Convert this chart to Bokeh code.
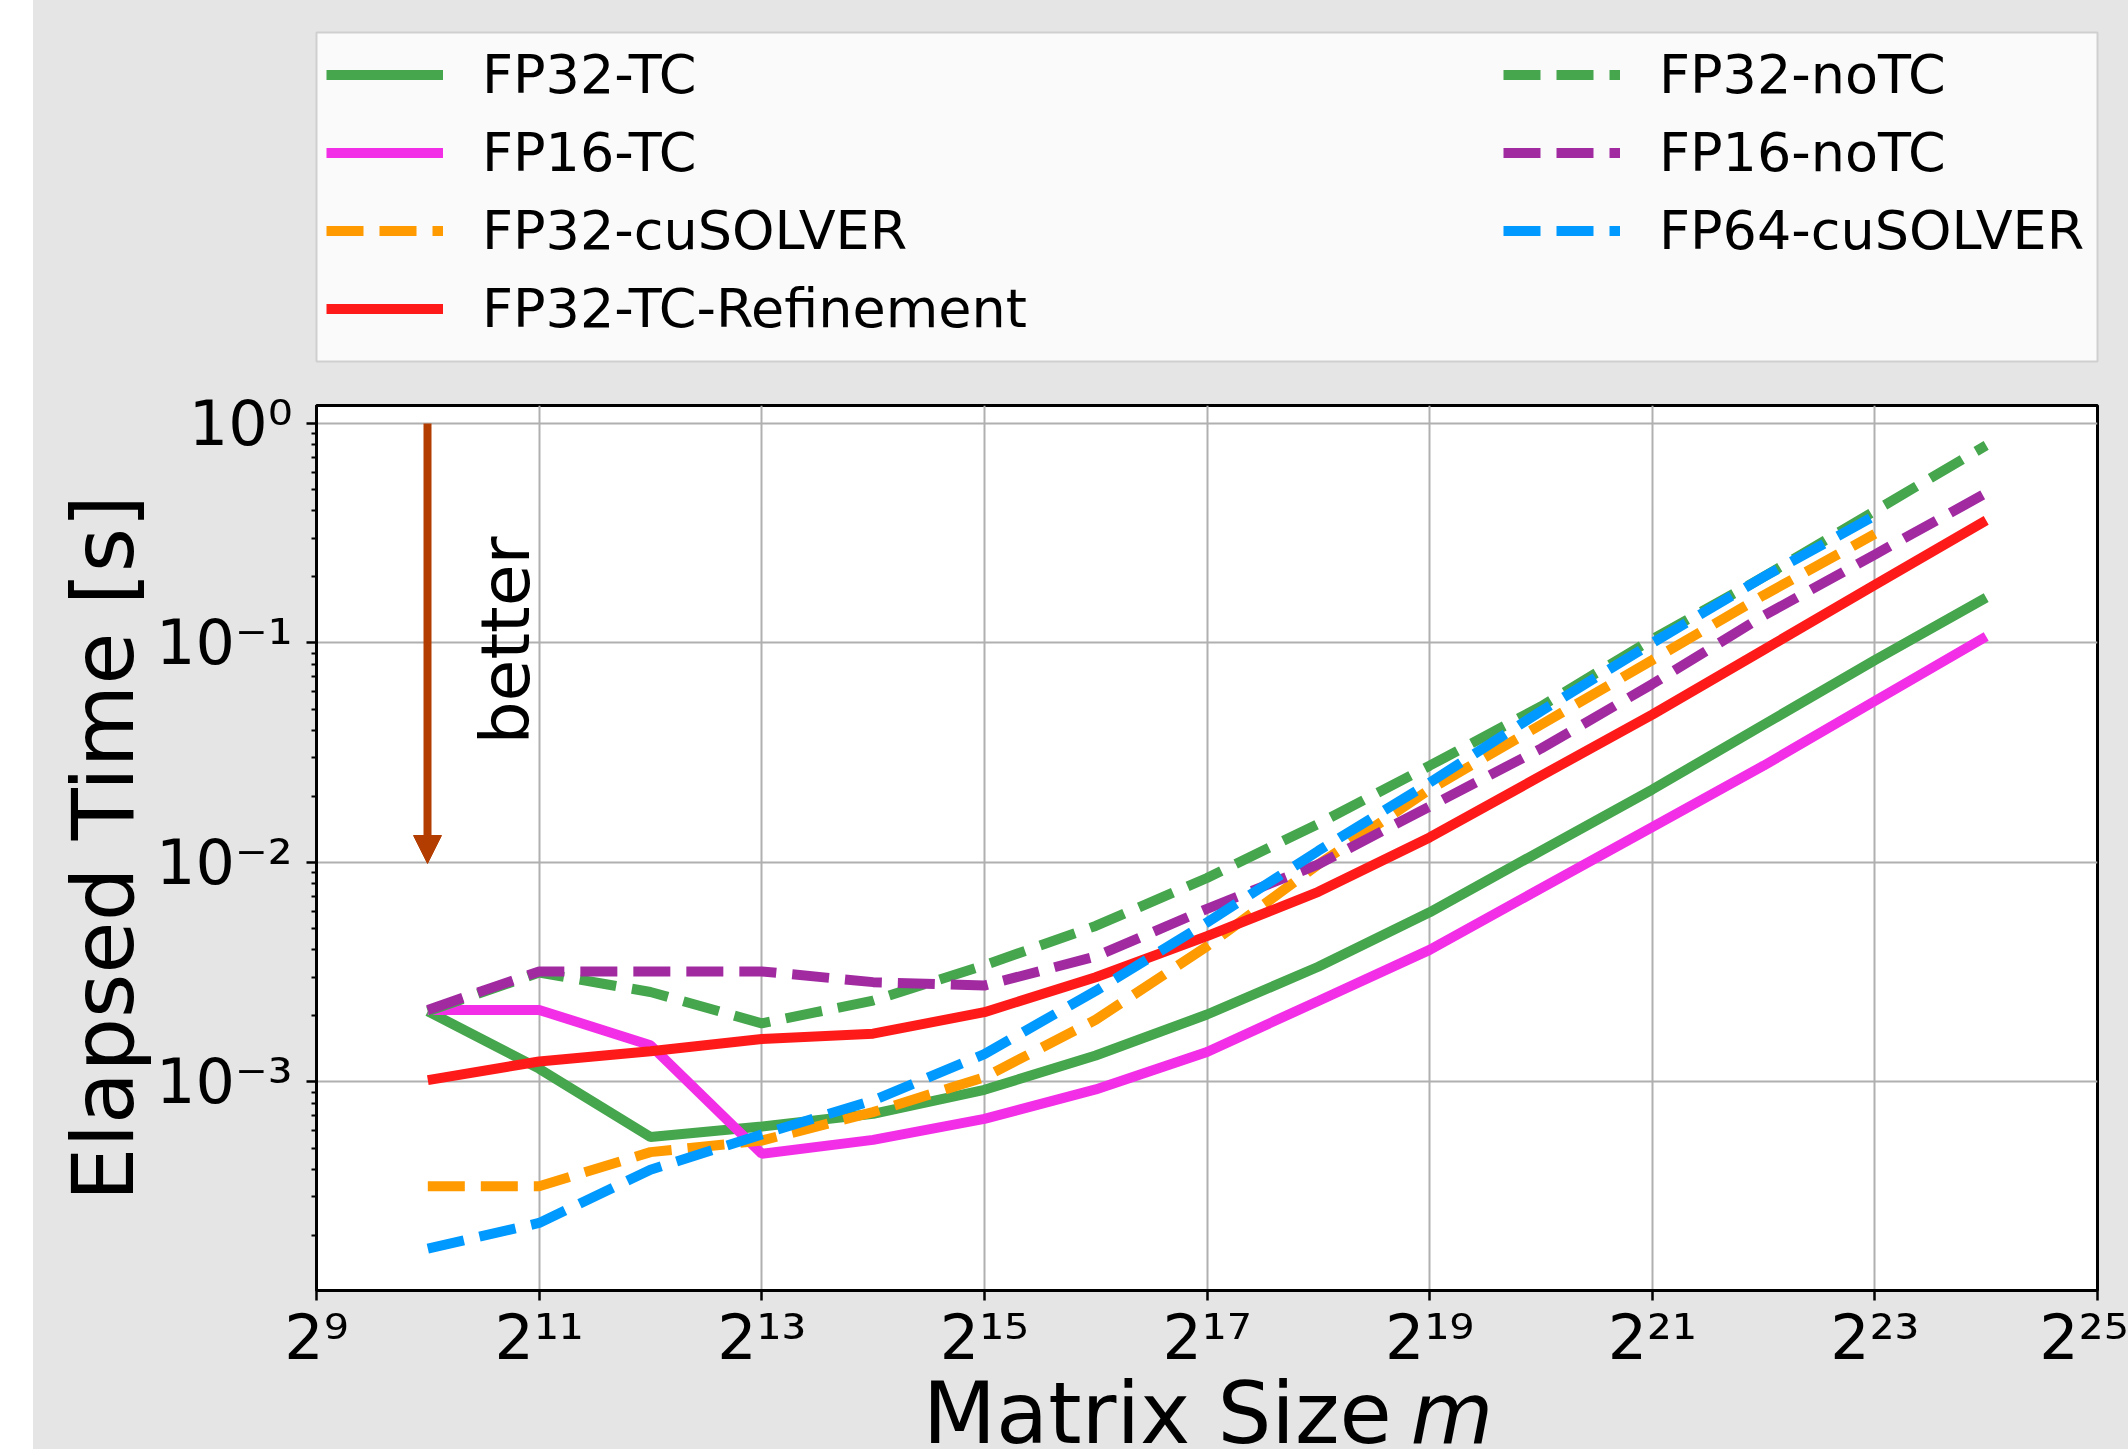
import math
from bokeh.plotting import figure
from bokeh.models import (Range1d, FixedTicker, Legend, LegendItem, Label, Arrow,
                          NormalHead, Spacer)
from bokeh.layouts import row, column
from bokeh.embed import file_html
from bokeh.resources import INLINE

# ---------------- data ----------------
sizes = [1024, 2048, 4096, 8192, 16384, 32768, 65536, 131072, 262144, 524288,
         1048576, 2097152, 4194304, 8388608, 16777216]
sizes_cusolver = sizes[:14]

fp32_tc = [2.10e-3, 1.15e-3, 5.61e-4, 6.27e-4, 7.16e-4, 9.21e-4, 1.32e-3, 2.03e-3,
           3.35e-3, 5.93e-3, 1.13e-2, 2.15e-2, 4.24e-2, 8.36e-2, 1.61e-1]
fp16_tc = [2.13e-3, 2.13e-3, 1.47e-3, 4.71e-4, 5.45e-4, 6.79e-4, 9.25e-4, 1.37e-3,
           2.34e-3, 4.00e-3, 7.62e-3, 1.45e-2, 2.76e-2, 5.44e-2, 1.07e-1]
fp32_cusolver = [3.35e-4, 3.35e-4, 4.79e-4, 5.41e-4, 7.29e-4, 1.05e-3, 1.92e-3, 4.15e-3,
                 9.80e-3, 2.15e-2, 4.24e-2, 8.36e-2, 1.65e-1, 3.14e-1]
fp32_tc_refine = [1.02e-3, 1.24e-3, 1.38e-3, 1.57e-3, 1.66e-3, 2.08e-3, 3.00e-3, 4.62e-3,
                  7.35e-3, 1.30e-2, 2.48e-2, 4.72e-2, 9.31e-2, 1.84e-1, 3.62e-1]
fp32_notc = [2.10e-3, 3.15e-3, 2.57e-3, 1.85e-3, 2.35e-3, 3.40e-3, 5.14e-3, 8.50e-3,
             1.50e-2, 2.76e-2, 5.14e-2, 1.04e-1, 2.00e-1, 4.00e-1, 7.95e-1]
fp16_notc = [2.13e-3, 3.19e-3, 3.19e-3, 3.19e-3, 2.85e-3, 2.75e-3, 3.73e-3, 6.15e-3,
             9.80e-3, 1.80e-2, 3.30e-2, 6.50e-2, 1.33e-1, 2.53e-1, 4.82e-1]
fp64_cusolver = [1.74e-4, 2.28e-4, 3.98e-4, 5.77e-4, 8.24e-4, 1.34e-3, 2.60e-3, 5.33e-3,
                 1.13e-2, 2.31e-2, 4.89e-2, 1.00e-1, 2.00e-1, 3.80e-1]

series_names = ["FP32-TC", "FP16-TC", "FP32-cuSOLVER", "FP32-TC-Refinement",
                "FP32-noTC", "FP16-noTC", "FP64-cuSOLVER"]

x_ticks = [512, 2048, 8192, 32768, 131072, 524288, 2097152, 8388608, 33554432]
x_tick_labels = ["2\u2079", "2\u00b9\u00b9", "2\u00b9\u00b3", "2\u00b9\u2075", "2\u00b9\u2077",
                 "2\u00b9\u2079", "2\u00b2\u00b9", "2\u00b2\u00b3", "2\u00b2\u2075"]
y_ticks = [0.001, 0.01, 0.1, 1.0]
y_tick_labels = ["10\u207b\u00b3", "10\u207b\u00b2", "10\u207b\u00b9", "10\u2070"]

x_label = "Matrix Size"
x_label_var = "m"
y_label = "Elapsed Time [s]"
arrow_text = "better"

# ---------------- layout constants (page pixels) ----------------
PAGE_X0 = 33
W = 2128 - PAGE_X0
FL, FR, FT, FB = 316, 2097, 405, 1290
LEG_T, LEG_B = 32, 361
LEG_FIG_H = 380
MAIN_END = 1376
X_LO, X_HI = 9.0, 25.0                # log2
Y_LO, Y_HI = -3.950, 0.082            # log10

FONT = "DejaVu Sans"
BG = "#e5e5e5"

GREEN = "#45a64d"
MAGENTA = "#f22ee6"
ORANGE = "#ff9a00"
RED = "#ff1a1a"
PURPLE = "#a12aa1"
BLUE = "#0099ff"
ARROW = "#b33c00"
LW = 10
DASH = "37 16"
styles = [dict(line_color=GREEN, line_width=LW),
          dict(line_color=MAGENTA, line_width=LW),
          dict(line_color=ORANGE, line_width=LW, line_dash=DASH),
          dict(line_color=RED, line_width=LW),
          dict(line_color=GREEN, line_width=LW, line_dash=DASH),
          dict(line_color=PURPLE, line_width=LW, line_dash=DASH),
          dict(line_color=BLUE, line_width=LW, line_dash=DASH)]


def dx(px):
    return 2 ** (X_LO + (px - FL) / (FR - FL) * (X_HI - X_LO))


def dy(py):
    return 10 ** (Y_HI - (py - FT) / (FB - FT) * (Y_HI - Y_LO))


# ================= legend figure (top) =================
leg_fig = figure(width=W, height=LEG_FIG_H, x_range=Range1d(0, 1), y_range=Range1d(0, 1),
                 x_axis_location=None, y_axis_location=None,
                 output_backend="svg", toolbar_location=None,
                 min_border_left=FL - PAGE_X0, min_border_right=PAGE_X0 + W - FR,
                 min_border_top=LEG_T, min_border_bottom=LEG_FIG_H - LEG_B)
leg_fig.border_fill_color = BG
leg_fig.background_fill_color = "#fafafa"
leg_fig.outline_line_color = "#cfcfcf"
leg_fig.outline_line_width = 2
leg_fig.grid.visible = False

# legend handles: same styles, placed outside the legend figure's visible range
handles = [leg_fig.line(x=[10, 11], y=[10, 11], **st) for st in styles]

PAD = 10
GH = 65
SP = 13
GW = 117
STAND = 39
leg_common = dict(glyph_width=GW, glyph_height=GH, label_height=GH, label_standoff=STAND,
                  padding=PAD, spacing=SP, margin=0,
                  label_text_font=FONT, label_text_font_size="54px",
                  label_text_color="black",
                  border_line_alpha=0, background_fill_alpha=0)
leg_a = Legend(items=[LegendItem(label=series_names[i], renderers=[handles[i]]) for i in range(4)],
               location="top_left", **leg_common)
b_height = 2 * PAD + 3 * GH + 2 * SP
leg_b = Legend(items=[LegendItem(label=series_names[i], renderers=[handles[i]]) for i in range(4, 7)],
               location=(1503 - PAD - FL, (LEG_B - LEG_T) - b_height), **leg_common)
leg_fig.add_layout(leg_a, "center")
leg_fig.add_layout(leg_b, "center")

# ================= main figure =================
p = figure(width=W, height=MAIN_END - LEG_FIG_H, x_axis_type="log", y_axis_type="log",
           x_range=Range1d(2 ** X_LO, 2 ** X_HI), y_range=Range1d(10 ** Y_LO, 10 ** Y_HI),
           output_backend="svg", toolbar_location=None,
           min_border_left=FL - PAGE_X0, min_border_right=PAGE_X0 + W - FR,
           min_border_top=FT - LEG_FIG_H, min_border_bottom=MAIN_END - FB)

p.border_fill_color = BG
p.background_fill_color = "white"
p.outline_line_color = "black"
p.outline_line_width = 3

xt = FixedTicker(ticks=x_ticks)
y_minor = []
for d in range(-4, 1):
    for k in range(2, 10):
        y_minor.append(k * 10 ** d)
yt = FixedTicker(ticks=y_ticks, minor_ticks=y_minor)
p.xaxis.ticker = xt
p.yaxis.ticker = yt
p.xgrid.ticker = xt
p.ygrid.ticker = yt
p.xaxis.major_label_overrides = dict(zip(x_ticks, x_tick_labels))
p.yaxis.major_label_overrides = dict(zip(y_ticks, y_tick_labels))

for ax in (p.xaxis[0], p.yaxis[0]):
    ax.axis_line_color = "black"
    ax.axis_line_width = 3
    ax.major_tick_out = 10
    ax.major_tick_in = 0
    ax.major_tick_line_width = 2.5
    ax.minor_tick_out = 5
    ax.minor_tick_in = 0
    ax.minor_tick_line_width = 2
    ax.major_label_text_font = FONT
    ax.major_label_text_font_size = "62px"
    ax.major_label_text_color = "black"
p.xaxis.major_label_standoff = 0
p.yaxis.major_label_standoff = 14

p.yaxis.axis_label = y_label
p.yaxis.axis_label_text_font = FONT
p.yaxis.axis_label_text_font_size = "85px"
p.yaxis.axis_label_text_font_style = "normal"
p.yaxis.axis_label_text_color = "black"
p.yaxis.axis_label_standoff = 0

for g in (p.xgrid[0], p.ygrid[0]):
    g.grid_line_color = "#b0b0b0"
    g.grid_line_width = 2

series = [(sizes, fp32_tc), (sizes, fp16_tc), (sizes_cusolver, fp32_cusolver),
          (sizes, fp32_tc_refine), (sizes, fp32_notc), (sizes, fp16_notc),
          (sizes_cusolver, fp64_cusolver)]
for (xs, ys), st in zip(series, styles):
    p.line(xs, ys, **st)

p.add_layout(Arrow(end=NormalHead(size=28, fill_color=ARROW, line_color=ARROW, line_width=1),
                   x_start=dx(427), y_start=dy(423), x_end=dx(427), y_end=dy(863),
                   line_color=ARROW, line_width=8))
p.add_layout(Label(x=dx(505), y=dy(640), text=arrow_text, angle=math.pi / 2,
                   text_align="center", text_baseline="middle",
                   text_font=FONT, text_font_size="68px", text_color="black"))

# ================= x label figure (bottom) =================
XL_H = 1449 - MAIN_END
xl_fig = figure(width=W, height=XL_H, x_range=Range1d(0, W), y_range=Range1d(0, XL_H),
                x_axis_location=None, y_axis_location=None,
                output_backend="svg", toolbar_location=None,
                min_border_left=0, min_border_right=0, min_border_top=0, min_border_bottom=0)
xl_fig.border_fill_color = BG
xl_fig.background_fill_color = BG
xl_fig.outline_line_color = None
xl_fig.grid.visible = False
XL_MID = 1449 - 1413
xl_fig.add_layout(Label(x=1265, y=XL_MID, text=x_label,
                        text_align="right", text_baseline="middle",
                        text_font=FONT, text_font_size="85px", text_color="black"))
xl_fig.add_layout(Label(x=1287, y=XL_MID, text=x_label_var,
                        text_align="left", text_baseline="middle",
                        text_font=FONT, text_font_size="85px", text_font_style="italic",
                        text_color="black"))

layout = row(Spacer(width=PAGE_X0, height=1449),
             column(leg_fig, p, xl_fig, styles={"background-color": BG}))
open("out.html", "w").write(file_html(layout, INLINE))
